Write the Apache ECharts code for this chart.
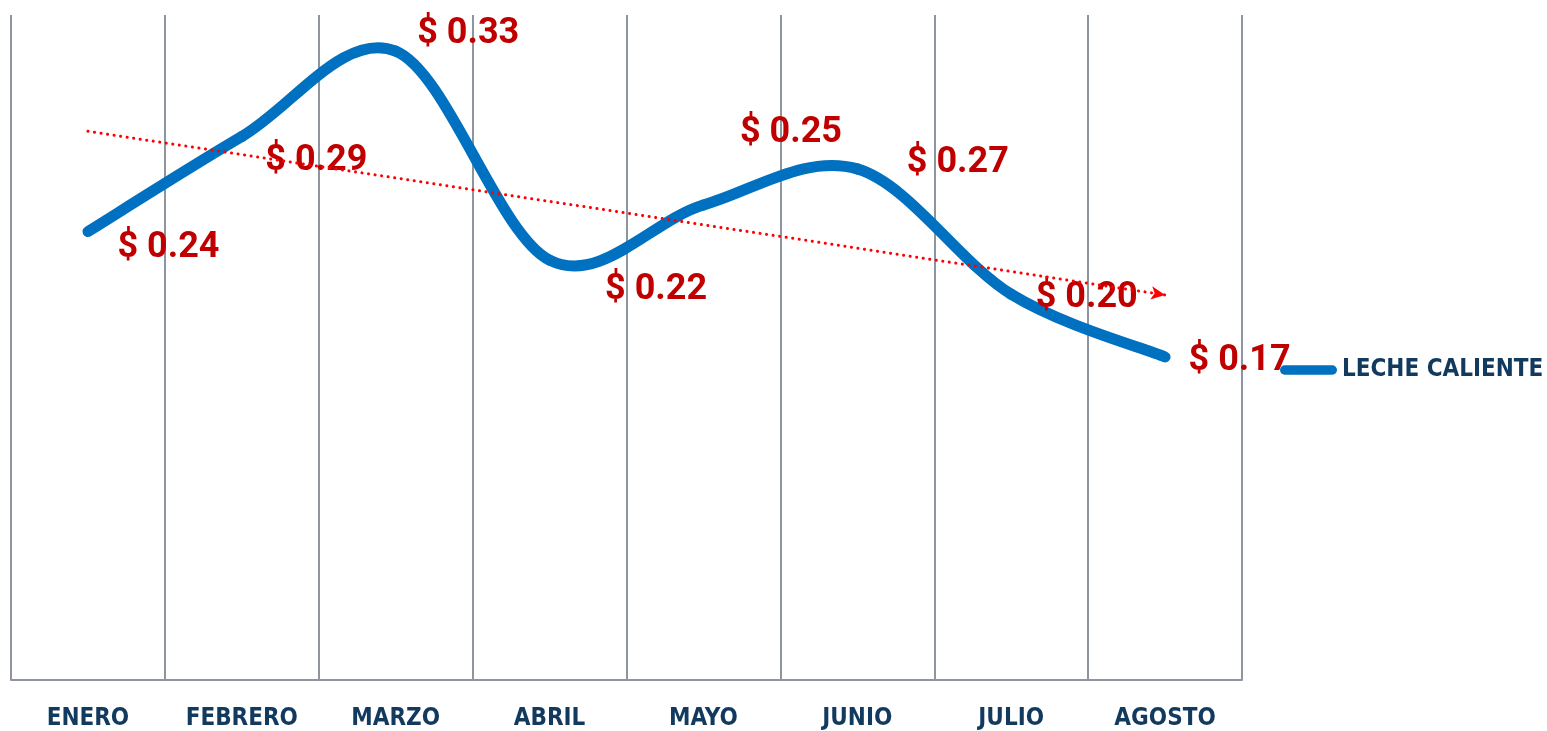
<!DOCTYPE html>
<html>
<head>
<meta charset="utf-8">
<script src="https://cdn.jsdelivr.net/npm/echarts@6/dist/echarts.min.js"></script>
<style>
  html, body { margin: 0; padding: 0; background: #fff; }
  #chart { width: 1547px; height: 731px; }
</style>
</head>
<body>
<div id="chart"></div>
<script>
const months = ['ENERO', 'FEBRERO', 'MARZO', 'ABRIL', 'MAYO', 'JUNIO', 'JULIO', 'AGOSTO']
const prices = [0.236, 0.286, 0.331, 0.221, 0.25, 0.269, 0.203, 0.17]
const seriesName = 'LECHE CALIENTE'

// where each price label sits relative to its point (dx, dy)
const labelOffsets = [[29, 16], [23, 24], [21, -17], [55, 30], [36, -72], [49, -6], [24, 4], [23, 4]]

// linear trend of the prices (least squares over month index)
const n = prices.length
const meanX = (n - 1) / 2
const meanY = prices.reduce((a, b) => a + b, 0) / n
let sxy = 0
let sxx = 0
prices.forEach((v, i) => {
  sxy += (i - meanX) * (v - meanY)
  sxx += (i - meanX) * (i - meanX)
})
const slope = sxy / sxx
const trendStart = meanY - slope * meanX
const trendEnd = trendStart + slope * (n - 1)

const navy = '#12395E'
const gridGrey = '#8E959E'
const lineBlue = '#0070C0'
const axisFont = 'DejaVu Sans Condensed, DejaVu Sans'

// excel-like smoothing: one bezier segment per pair of points (catmull-rom, 1/6)
const renderSegment = (params, api) => {
  const i = params.dataIndexInside
  const last = params.dataInsideLength - 1
  if (i >= last) return
  const pt = (k) => api.coord([api.value(0, k), api.value(1, k)])
  const p0 = pt(Math.max(i - 1, 0))
  const p1 = pt(i)
  const p2 = pt(i + 1)
  const p3 = pt(Math.min(i + 2, last))
  return {
    type: 'bezierCurve',
    shape: {
      x1: p1[0],
      y1: p1[1],
      cpx1: p1[0] + (p2[0] - p0[0]) / 6,
      cpy1: p1[1] + (p2[1] - p0[1]) / 6,
      cpx2: p2[0] - (p3[0] - p1[0]) / 6,
      cpy2: p2[1] - (p3[1] - p1[1]) / 6,
      x2: p2[0],
      y2: p2[1]
    },
    style: { stroke: lineBlue, lineWidth: 11, lineCap: 'round', fill: null }
  }
}

const myChart = echarts.init(document.getElementById('chart'))
myChart.setOption({
  animation: false,
  grid: { left: 11, right: 305, top: 15, bottom: 50 },
  legend: {
    left: 1275,
    top: 353,
    icon: 'path://M5,0 L55,0 A5,5 0 0 1 55,10 L5,10 A5,5 0 0 1 5,0 Z',
    itemWidth: 57,
    itemHeight: 10,
    itemStyle: { color: lineBlue },
    textStyle: { color: navy, fontFamily: axisFont, fontWeight: 'bold', fontSize: 24 },
    data: [seriesName]
  },
  xAxis: {
    type: 'category',
    data: months,
    boundaryGap: true,
    axisLine: { lineStyle: { color: gridGrey, width: 2 } },
    axisTick: { show: false },
    splitLine: { show: true, lineStyle: { color: gridGrey, width: 2 } },
    axisLabel: {
      color: navy,
      fontFamily: axisFont,
      fontWeight: 'bold',
      fontSize: 24,
      margin: 27
    }
  },
  yAxis: {
    type: 'value',
    min: 0,
    max: 0.35,
    show: false
  },
  series: [
    {
      name: seriesName,
      type: 'custom',
      renderItem: renderSegment,
      encode: { x: 0, y: 1 },
      itemStyle: { color: lineBlue },
      data: prices.map((v, i) => [i, v]),
      z: 2
    },
    {
      name: seriesName,
      type: 'line',
      symbol: 'circle',
      symbolSize: 1,
      itemStyle: { color: lineBlue },
      lineStyle: { opacity: 0 },
      label: {
        show: true,
        position: 'right',
        distance: 0,
        color: '#C00000',
        fontFamily: 'Roboto',
        fontWeight: 'bold',
        fontSize: 36,
        formatter: (p) => '$ ' + p.value.toFixed(2)
      },
      data: prices.map((v, i) => ({ value: v, label: { offset: labelOffsets[i] } })),
      markLine: {
        silent: true,
        symbol: ['none', 'arrow'],
        symbolSize: [10, 14],
        label: { show: false },
        lineStyle: { color: '#FF0000', width: 3, type: [0.1, 6.5], cap: 'round' },
        data: [[{ coord: [0, trendStart] }, { coord: [n - 1, trendEnd] }]]
      },
      z: 3
    }
  ]
})
</script>
</body>
</html>
